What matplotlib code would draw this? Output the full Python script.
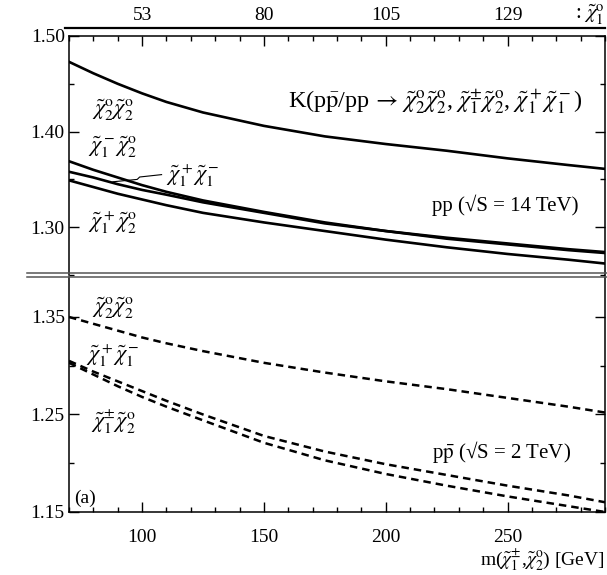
import numpy as np
import matplotlib
matplotlib.use('Agg')
import matplotlib.pyplot as plt
from matplotlib.lines import Line2D
from matplotlib.ticker import MultipleLocator, FormatStrFormatter

plt.rcParams['font.family'] = 'serif'
plt.rcParams['font.serif'] = ['Liberation Serif', 'DejaVu Serif']
plt.rcParams['mathtext.fontset'] = 'stix'

# chargino / neutralino mass grid [GeV]
m = [70, 80, 90, 100, 110, 125, 150, 175, 200, 225, 250, 275, 290]

# K factors, LHC pp at 14 TeV
k_lhc_n2n2 = [1.473, 1.461, 1.450, 1.440, 1.431, 1.420, 1.406, 1.395, 1.387, 1.380, 1.372, 1.365, 1.361]
k_lhc_c1m_n2 = [1.369, 1.360, 1.352, 1.344, 1.337, 1.328, 1.316, 1.305, 1.296, 1.289, 1.283, 1.277, 1.274]
k_lhc_c1c1 = [1.358, 1.352, 1.345, 1.339, 1.334, 1.326, 1.315, 1.304, 1.296, 1.288, 1.282, 1.276, 1.273]
k_lhc_c1p_n2 = [1.349, 1.342, 1.335, 1.329, 1.323, 1.315, 1.305, 1.296, 1.287, 1.279, 1.272, 1.266, 1.262]

# K factors, Tevatron ppbar at 2 TeV
k_tev_n2n2 = [1.350, 1.343, 1.336, 1.329, 1.323, 1.315, 1.303, 1.293, 1.284, 1.276, 1.267, 1.258, 1.252]
k_tev_c1c1 = [1.305, 1.294, 1.284, 1.274, 1.264, 1.250, 1.228, 1.212, 1.199, 1.188, 1.177, 1.167, 1.160]
k_tev_c1n2 = [1.303, 1.291, 1.279, 1.268, 1.258, 1.244, 1.221, 1.203, 1.189, 1.177, 1.166, 1.156, 1.150]

# lightest neutralino mass on the upper scale
top_pos = [100, 150, 200, 250]
top_lab = ['53', '80', '105', '129']

W, H = 607, 575
fig = plt.figure(figsize=(W / 100, H / 100), dpi=100)

def box(x0, y0, x1, y1):
    # pixel box -> figure fraction
    return [x0 / W, 1 - y1 / H, (x1 - x0) / W, (y1 - y0) / H]

ax1 = fig.add_axes(box(69, 36, 605, 275))
ax2 = fig.add_axes(box(69, 277, 605, 512))

lw = 1.9
ax1.plot(m, k_lhc_n2n2, 'k-', lw=lw)
ax1.plot(m, k_lhc_c1m_n2, 'k-', lw=lw)
ax1.plot(m, k_lhc_c1c1, 'k-', lw=lw)
ax1.plot(m, k_lhc_c1p_n2, 'k-', lw=lw)

for k in (k_tev_n2n2, k_tev_c1c1, k_tev_c1n2):
    ax2.plot(m, k, 'k-', lw=1.8, dashes=(3.0, 2.0))

ax1.set_xlim(70, 290)
ax2.set_xlim(70, 290)
ax1.set_ylim(1.25, 1.50)
ax2.set_ylim(1.15, 1.391)

for ax in (ax1, ax2):
    for s in ax.spines.values():
        s.set_linewidth(1.1)
    ax.xaxis.set_major_locator(MultipleLocator(50))
    ax.xaxis.set_minor_locator(MultipleLocator(10))
    ax.yaxis.set_minor_locator(MultipleLocator(0.05))
    ax.yaxis.set_major_formatter(FormatStrFormatter('%.2f'))
    ax.tick_params(which='both', direction='in', right=True, width=1.0, labelsize=14)
    ax.tick_params(which='major', length=7)
    ax.tick_params(which='minor', length=3.5)
    ax.tick_params(axis='y', pad=3)

ax1.spines['bottom'].set_visible(False)
ax2.spines['top'].set_visible(False)

ax1.yaxis.set_major_locator(MultipleLocator(0.1))
ax2.set_yticks([1.15, 1.25, 1.35])

ax1.xaxis.tick_top()
ax1.tick_params(axis='x', which='both', top=True, bottom=False)
ax1.set_xticks(top_pos)
ax1.set_xticklabels(top_lab)
ax1.tick_params(axis='x', pad=8.5)
ax2.tick_params(axis='x', which='both', top=False, pad=12.5)

# frame line above the top panel and double separator between panels
fig.add_artist(Line2D([65 / W, 605 / W], [1 - 28 / H] * 2, color='k', lw=1.6))
for yp in (273, 277):
    fig.add_artist(Line2D([27 / W, 1.0], [1 - yp / H] * 2, color='#555555', lw=1.1))

chi = r'\tilde{\chi}'
fs = 16
ax1.text(88, 1.4226, rf'${chi}^{{\rm o}}_2{chi}^{{\rm o}}_2$', fontsize=fs, ha='center', va='center')
ax1.text(88, 1.3839, rf'${chi}^-_1{chi}^{{\rm o}}_2$', fontsize=fs, ha='center', va='center')
ax1.text(110, 1.3536, rf'${chi}^+_1{chi}^-_1$', fontsize=fs, ha='left', va='center')
ax1.plot([88, 98, 99, 108], [1.3475, 1.3500, 1.3525, 1.3550], 'k-', lw=0.8)
ax1.text(88, 1.3044, rf'${chi}^+_1{chi}^{{\rm o}}_2$', fontsize=fs, ha='center', va='center')
ax1.text(159.8, 1.431,
         rf'K(p$\bar{{\rm p}}$/pp$\,\rightarrow\,{chi}^{{\rm o}}_2{chi}^{{\rm o}}_2$, '
         rf'${chi}^{{\pm}}_1{chi}^{{\rm o}}_2$, ${chi}^+_1{chi}^-_1$)',
         fontsize=17.5, ha='left', va='center')
ax1.text(218.8, 1.3232, 'pp (√S = 14 TeV)', fontsize=15, ha='left', va='center')

ax2.text(88, 1.3592, rf'${chi}^{{\rm o}}_2{chi}^{{\rm o}}_2$', fontsize=fs, ha='center', va='center')
ax2.text(88, 1.310, rf'${chi}^+_1{chi}^-_1$', fontsize=fs, ha='center', va='center')
ax2.text(88, 1.2423, rf'${chi}^{{\pm}}_1{chi}^{{\rm o}}_2$', fontsize=fs, ha='center', va='center')
ax2.text(218.8, 1.2115, r'p$\bar{\rm p}$ (√S = 2 TeV)', fontsize=15, ha='left', va='center')
ax2.text(72, 1.1644, '(a)', fontsize=14, ha='left', va='center')

fig.text(605 / W, 2 / H, rf'm(${chi}^{{\pm}}_1$,${chi}^{{\rm o}}_2$) [GeV]',
         fontsize=14, ha='right', va='bottom')
fig.text(605 / W, 1 - 15 / H, rf': ${chi}^{{\rm o}}_1$', fontsize=15, ha='right', va='center')

fig.savefig('out.png', dpi=100)
